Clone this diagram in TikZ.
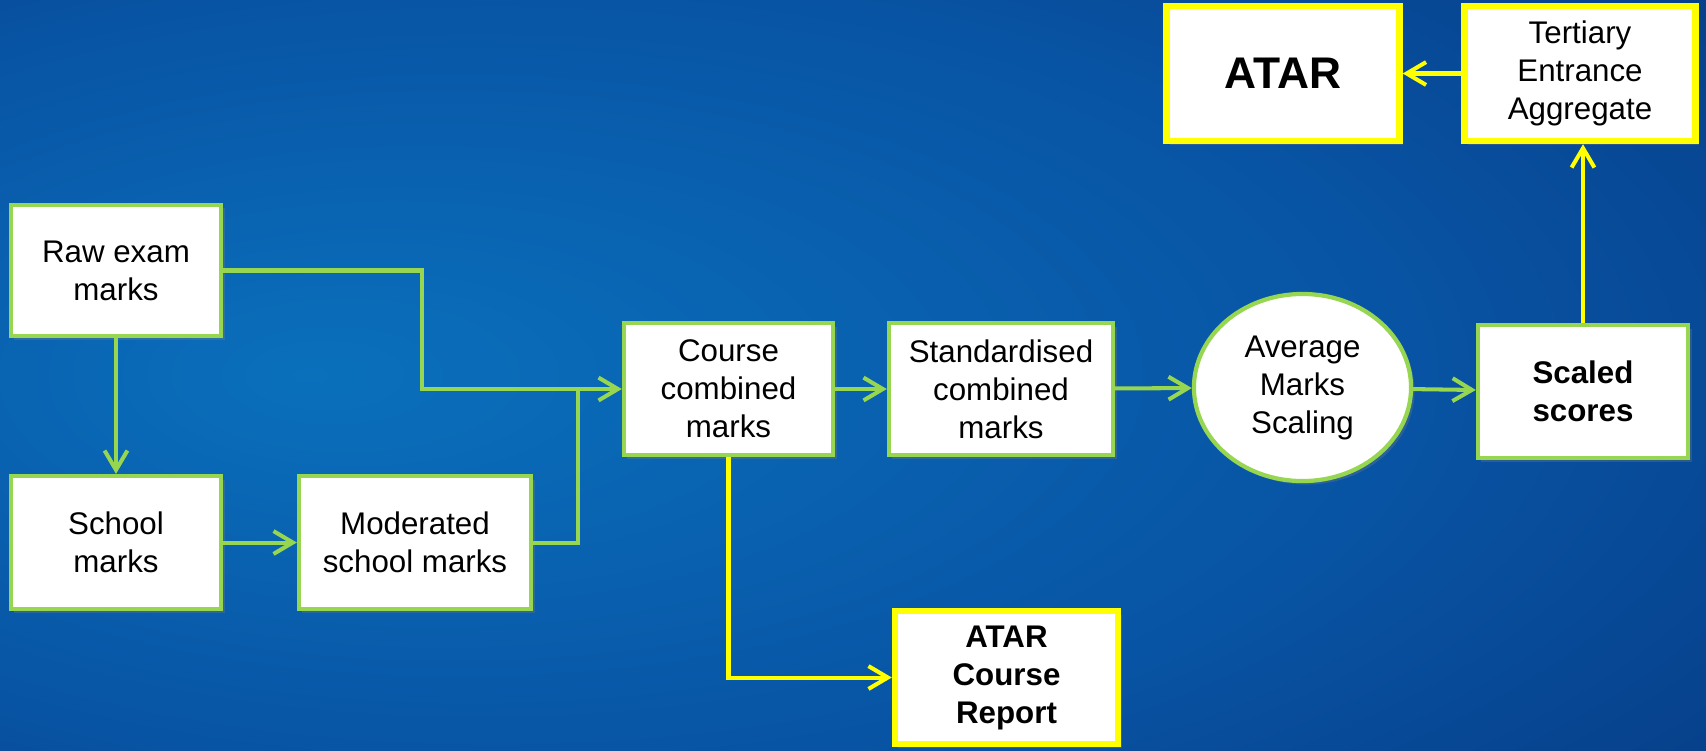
\documentclass[tikz,border=0pt]{standalone}
\usepackage{fontspec}
\setmainfont{Liberation Sans}
\usetikzlibrary{arrows.meta,shapes.geometric,shadows}
\definecolor{boxgreen}{RGB}{150,214,80}
\definecolor{boxyellow}{RGB}{255,255,0}
\definecolor{bgcentre}{RGB}{10,112,188}
\definecolor{bgmid}{RGB}{8,84,164}
\definecolor{bgedge}{RGB}{6,52,124}
\definecolor{bgcorner}{RGB}{4,34,88}
\pgfdeclareradialshading{bgshade}{\pgfpoint{-16bp}{0bp}}{color(0bp)=(bgcentre); color(26bp)=(bgmid); color(50bp)=(bgedge); color(72bp)=(bgcorner)}

\begin{document}
\begin{tikzpicture}[x=0.01cm,y=-0.01cm]
\tikzstyle{greenbox}=[rectangle,align=center,draw=boxgreen,line width=1.2pt,fill=white,text=black,inner sep=0pt,font=\fontsize{8.9}{10.8}\selectfont,drop shadow={opacity=0.3,shadow xshift=1pt,shadow yshift=-1pt}]
\tikzstyle{yellowbox}=[greenbox,draw=boxyellow,line width=1.8pt]
\tikzstyle{greenline}=[boxgreen,line width=1.15pt]
\tikzstyle{greenarrow}=[greenline,-{Straight Barb[length=5.5pt,width=6.5pt]}]
\tikzstyle{yellowarrow}=[boxyellow,line width=1.15pt,-{Straight Barb[length=5.5pt,width=6.5pt]}]
\fill[shading=bgshade] (0,0) rectangle (1706,750);
\useasboundingbox (0,0) rectangle (1706,750);
\node[greenbox,minimum width=2.10cm,minimum height=1.31cm] (raw_exam) at (116,270.5) {Raw exam\\marks};
\node[greenbox,minimum width=2.10cm,minimum height=1.33cm] (school) at (116,542.5) {School\\marks};
\node[greenbox,minimum width=2.32cm,minimum height=1.33cm] (moderated) at (415,542.5) {Moderated\\school marks};
\node[greenbox,minimum width=2.09cm,minimum height=1.32cm] (course) at (728.5,389) {Course\\combined\\marks};
\node[greenbox,minimum width=2.24cm,minimum height=1.32cm] (standardised) at (1001,389) {Standardised\\combined\\marks};
\node[greenbox,ellipse,minimum width=2.17cm,minimum height=1.87cm] (average) at (1302.5,387.5) {Average\\Marks\\Scaling};
\node[greenbox,minimum width=2.10cm,minimum height=1.33cm,font=\fontsize{8.9}{10.8}\selectfont\bfseries] (scaled) at (1583,391.5) {Scaled\\scores};
\node[yellowbox,minimum width=2.31cm,minimum height=1.35cm] (tertiary) at (1580,73.5) {Tertiary\\Entrance\\Aggregate};
\node[yellowbox,minimum width=2.33cm,minimum height=1.35cm,font=\fontsize{12.6}{14}\selectfont\bfseries] (atar) at (1283,73.5) {ATAR};
\node[yellowbox,minimum width=2.23cm,minimum height=1.33cm,font=\fontsize{8.9}{10.8}\selectfont\bfseries] (report) at (1006.5,677.5) {ATAR\\Course\\Report};
\coordinate (raw_bend) at (422,389);
\coordinate (mod_bend) at (578,389);

\draw[greenarrow] (raw_exam) -- (school);
\draw[greenarrow] (school) -- (moderated);
\draw[greenarrow] (raw_exam.east) -| (raw_bend) -- (course.west);
\draw[greenline] (moderated.east) -| (mod_bend);
\draw[greenarrow] (course) -- (standardised);
\draw[greenarrow] (standardised) -- (average);
\draw[greenarrow] (average) -- (scaled);
\draw[yellowarrow] (scaled.north) -- (scaled.north |- tertiary.south);
\draw[yellowarrow] (tertiary) -- (atar);
\draw[yellowarrow] (course.south) |- (report.west);
\end{tikzpicture}
\end{document}
